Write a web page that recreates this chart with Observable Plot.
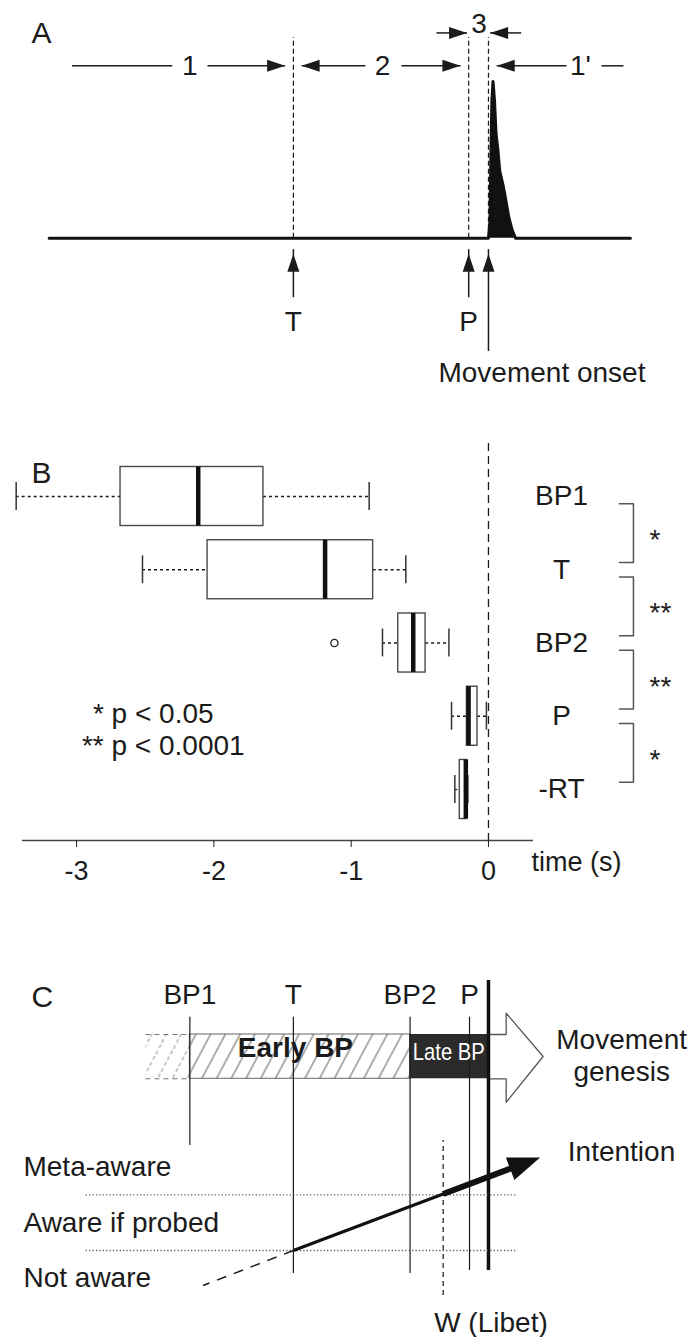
<!DOCTYPE html>
<html><head><meta charset="utf-8">
<script src="https://cdn.jsdelivr.net/npm/d3@7"></script>
<script src="https://cdn.jsdelivr.net/npm/@observablehq/plot@0.6"></script>
<style>
body{margin:0;background:#fff;}
#chart{width:690px;}
#chart svg{display:block;}
</style></head><body>
<svg width="0" height="0" style="position:absolute">
 <defs>
  <pattern id="hatch" patternUnits="userSpaceOnUse" width="13" height="13" patternTransform="rotate(28)">
   <line x1="2" y1="0" x2="2" y2="13" stroke="#6a6a6a" stroke-width="1.1"/>
  </pattern>
  <pattern id="hatchFaint" patternUnits="userSpaceOnUse" width="13" height="13" patternTransform="rotate(28)">
   <line x1="2" y1="0" x2="2" y2="13" stroke="#9a9a9a" stroke-width="1.1" stroke-dasharray="4,3"/>
  </pattern>
 </defs>
</svg>
<div id="chart"></div>
<script>
// ================= DATA =================
// Panel A: events (s, relative to movement onset) and EMG envelope
const eventNamesA = ["T", "P", "Movement onset"];
const eventTimesA = [-1.421, -0.144, 0];
const emgTime = [-3.2, 0, 0.011, 0.018, 0.025, 0.033, 0.044, 0.055, 0.069, 0.082, 0.102, 0.117, 0.131, 0.148, 0.173, 0.197, 1.034];
const emgAmp  = [0, 0, 0.11, 0.56, 0.88, 1.0, 0.88, 0.67, 0.56, 0.43, 0.355, 0.29, 0.22, 0.134, 0.05, 0, 0];
const intervalLabels = ["1", "2", "1'", "3"];
const intervalLabelTimes = [-2.175, -0.772, 0.67, -0.069];

// Panel B: box plots (time, s)
const categories  = ["BP1", "T", "BP2", "P", "-RT"];
const whiskerLow  = [-3.44, -2.52, -0.772, -0.269, -0.245];
const quart1      = [-2.68, -2.046, -0.657, -0.157, -0.209];
const median      = [-2.114, -1.19, -0.548, -0.145, -0.165];
const quart3      = [-1.639, -0.84, -0.458, -0.08, -0.155];
const whiskerHigh = [-0.869, -0.602, -0.288, -0.015, -0.15];
const outlierCategory = ["BP2"];
const outlierTime = [-1.122];
const compareFrom = ["BP1", "T", "BP2", "P"];
const compareTo   = ["T", "BP2", "P", "-RT"];
const compareSig  = ["*", "**", "**", "*"];
const xTicks = [-3, -2, -1, 0];
const pLegend = ["* p < 0.05", "** p < 0.0001"];

// Panel C: scheme
const schemeNames = ["BP1", "T", "BP2", "P"];
const schemeTimes = [-2.175, -1.421, -0.571, -0.138];
const wLibetTime = -0.33;
const awarenessNames = ["Not aware", "Aware if probed", "Meta-aware"];
const awarenessLevels = [0.5, 1.5, 2.5];
const intentionTip = {t: 0.376, level: 2.67};

// ================= LAYOUT =================
const W = 690;
const X_DOMAIN = [-3.394, 0.328], X_RANGE = [22, 533];
const FONT = "'Liberation Sans', Arial, Helvetica, sans-serif";
const INK = "#1b1b1b";
const xs = d3.scaleLinear(X_DOMAIN, X_RANGE);

function head(angleDeg, len = 18, halfW = 6) {
  const a = angleDeg * Math.PI / 180, c = Math.cos(a), s = Math.sin(a);
  return {draw(ctx) {
    const bx = -len * c, by = -len * s;
    ctx.moveTo(0, 0);
    ctx.lineTo(bx + halfW * s, by - halfW * c);
    ctx.lineTo(bx - halfW * s, by + halfW * c);
    ctx.closePath();
  }};
}
const headRight = head(0), headLeft = head(180), headUp = head(-90);
const txt = (o) => ({fontSize: 28, fill: INK, ...o});

// ================= PANEL A =================
const emg = emgTime.map((t, i) => ({t, a: emgAmp[i]}));
const evA = eventNamesA.map((name, i) => ({name, t: eventTimesA[i]}));
const tT = eventTimesA[0], tP = eventTimesA[1], t0 = eventTimesA[2];
const ROW1 = 1.1, ROW2 = 1.31, DASH_TOP = 1.28, TIP = -0.1, G1 = 0.06, G2 = 0.012;
const rowSegs = [
  {x1: -3.034, x2: -2.303, y: ROW1}, {x1: -2.047, x2: tT - G1, y: ROW1},
  {x1: tT + G1, x2: -0.896, y: ROW1}, {x1: -0.634, x2: tP - G1, y: ROW1},
  {x1: t0 + G1, x2: 0.568, y: ROW1}, {x1: 0.823, x2: 0.983, y: ROW1},
  {x1: -0.379, x2: tP - G2, y: ROW2}, {x1: t0 + G2, x2: 0.238, y: ROW2}
];
const headsR = [{t: tT - G1, y: ROW1}, {t: tP - G1, y: ROW1}, {t: tP - G2, y: ROW2}];
const headsL = [{t: tT + G1, y: ROW1}, {t: t0 + G1, y: ROW1}, {t: t0 + G2, y: ROW2}];
const labA = intervalLabels.map((s, i) => ({s, t: intervalLabelTimes[i], y: i < 3 ? ROW1 : ROW2 + 0.055}));
const tailA = {"T": -0.377, "P": -0.377, "Movement onset": -0.72};

const plotA = Plot.plot({
  width: W, height: 390, margin: 0,
  style: {fontFamily: FONT, background: "white"},
  x: {domain: X_DOMAIN, range: X_RANGE, axis: null},
  y: {domain: [0, 1], range: [237.7, 81], axis: null},
  marks: [
    Plot.ruleX(evA, {x: "t", y1: () => 0, y2: () => DASH_TOP, stroke: INK, strokeWidth: 1.2, strokeDasharray: "5,3"}),
    Plot.areaY(emg, {x: "t", y: "a", fill: "#111"}),
    Plot.line(emg, {x: "t", y: "a", stroke: "#111", strokeWidth: 3}),
    Plot.link(rowSegs, {x1: "x1", x2: "x2", y1: "y", y2: "y", stroke: INK, strokeWidth: 1.5}),
    Plot.dot(headsR, {x: "t", y: "y", symbol: headRight, fill: INK, stroke: "none"}),
    Plot.dot(headsL, {x: "t", y: "y", symbol: headLeft, fill: INK, stroke: "none"}),
    Plot.text(labA, txt({x: "t", y: "y", text: "s"})),
    Plot.link(evA, {x1: "t", x2: "t", y1: d => tailA[d.name], y2: () => TIP + 0.03, stroke: INK, strokeWidth: 1.5}),
    Plot.dot(evA, {x: "t", y: () => TIP, symbol: headUp, fill: INK, stroke: "none"}),
    Plot.text(evA.slice(0, 2), txt({x: "t", y: () => -0.538, text: "name"})),
    Plot.text(evA.slice(2), txt({x: "t", y: () => -0.863, text: "name", textAnchor: "start", dx: -50})),
    Plot.text(["A"], txt({x: () => -3.329, y: () => 1.31, text: d => d, textAnchor: "start", fontSize: 30}))
  ]
});

// ================= PANEL B =================
const idx = Object.fromEntries(categories.map((c, i) => [c, i]));
const boxes = categories.map((name, i) => ({name, i, lo: whiskerLow[i], q1: quart1[i], med: median[i], q3: quart3[i], hi: whiskerHigh[i]}));
const outliers = outlierCategory.map((c, k) => ({i: idx[c], t: outlierTime[k]}));
const BOX_H = 0.403, CAP_H = 0.19, BR = 0.1;
const yB = {domain: [0, 4], range: [106, 399]};
const axisLevel = d3.scaleLinear(yB.domain, yB.range).invert(450);
const BRX1 = 0.954, BRX2 = 1.056, STARX = 1.173, LABX = 0.532;
const brackets = compareFrom.flatMap((f, k) => {
  const a = idx[f] + BR, b = idx[compareTo[k]] - BR;
  return [{k, x: BRX1, y: a}, {k, x: BRX2, y: a}, {k, x: BRX2, y: b}, {k, x: BRX1, y: b}];
});
const sigs = compareFrom.map((f, k) => ({s: compareSig[k], y: (idx[f] + idx[compareTo[k]]) / 2}));
const legendB = pLegend.map((s, i) => ({s, x: [-2.881, -2.961][i], y: [2.967, 3.41][i]}));

const plotB = Plot.plot({
  width: W, height: 510, marginTop: 53, marginBottom: 60, marginLeft: 22, marginRight: 157,
  style: {fontFamily: FONT, background: "white"},
  x: {domain: X_DOMAIN, range: X_RANGE, label: null},
  y: {...yB, axis: null},
  marks: [
    Plot.ruleX([0], {stroke: INK, strokeWidth: 1.3, strokeDasharray: "8,5"}),
    Plot.ruleY([axisLevel], {stroke: "#444", strokeWidth: 1.4}),
    Plot.axisX({ticks: xTicks, tickFormat: d => String(d), tickSize: 7, tickPadding: 13, fontSize: 27, color: INK, label: null, anchor: "bottom"}),
    Plot.ruleY(boxes, {y: "i", x1: "lo", x2: "q1", stroke: INK, strokeWidth: 1.3, strokeDasharray: "3,3"}),
    Plot.ruleY(boxes, {y: "i", x1: "q3", x2: "hi", stroke: INK, strokeWidth: 1.3, strokeDasharray: "3,3"}),
    Plot.ruleX(boxes, {x: "lo", y1: d => d.i - CAP_H, y2: d => d.i + CAP_H, stroke: "#333", strokeWidth: 1.5}),
    Plot.ruleX(boxes, {x: "hi", y1: d => d.i - CAP_H, y2: d => d.i + CAP_H, stroke: "#333", strokeWidth: 1.5}),
    Plot.rect(boxes, {x1: "q1", x2: "q3", y1: d => d.i - BOX_H, y2: d => d.i + BOX_H, fill: "white", stroke: "#4a4a4a", strokeWidth: 1.4}),
    Plot.ruleX(boxes, {x: "med", y1: d => d.i - BOX_H, y2: d => d.i + BOX_H, stroke: "#111", strokeWidth: 4.5}),
    Plot.dot(outliers, {x: "t", y: "i", r: 3.6, stroke: INK, fill: "white", strokeWidth: 1.3}),
    Plot.text(boxes, txt({x: () => LABX, y: "i", text: "name"})),
    Plot.line(brackets, {x: "x", y: "y", z: "k", stroke: "#555", strokeWidth: 1.5}),
    Plot.text(sigs, txt({x: () => STARX, y: "y", text: "s", textAnchor: "start", dy: 7})),
    Plot.text(legendB, txt({x: "x", y: "y", text: "s", textAnchor: "start"})),
    Plot.text(["B"], txt({x: () => -3.329, y: () => -0.314, text: d => d, textAnchor: "start", fontSize: 30})),
    Plot.text(["time (s)"], txt({x: () => 0.313, frameAnchor: "bottom", dy: 30, text: d => d, textAnchor: "start", fontSize: 27}))
  ]
});

// ================= PANEL C =================
const ev = schemeNames.map((name, i) => ({name, t: schemeTimes[i]}));
const [tBP1, tTc, tBP2] = schemeTimes;
const yC = {domain: [0, 3], range: [405.7, 238.6]};
const ys = d3.scaleLinear(yC.domain, yC.range);
const BAR_TOP = 4.878, BAR_BOT = 4.083, MID = 4.483, HEAD_TOP = 5.26, HEAD_BOT = 3.662;
const EXT_START = -2.495, HB = 0.129, GTIP = 0.398;
const LINE_TOP = 5.188, LABEL_LVL = 5.578;
const lineBottom = {BP1: 2.885, T: 0.587, BP2: 0.587, P: 0.641};
const genesis = [
  {t: t0, y: BAR_TOP}, {t: HB, y: BAR_TOP}, {t: HB, y: HEAD_TOP}, {t: GTIP, y: MID},
  {t: HB, y: HEAD_BOT}, {t: HB, y: BAR_BOT}, {t: t0, y: BAR_BOT}
];
// intention arrow geometry
const p0 = [xs(tTc), ys(1)], p1 = [xs(intentionTip.t), ys(intentionTip.level)];
const ang = Math.atan2(p1[1] - p0[1], p1[0] - p0[0]);
const HEAD_LEN = 32;
const basePx = [p1[0] - (HEAD_LEN - 6) * Math.cos(ang), p1[1] - (HEAD_LEN - 6) * Math.sin(ang)];
const fW = (xs(wLibetTime) - p0[0]) / (p1[0] - p0[0]);
const crossW = {t: wLibetTime, y: ys.invert(p0[1] + fW * (p1[1] - p0[1]))};
const intentThin = [{x1: tTc, y1: 1, x2: crossW.t, y2: crossW.y}];
const intentThick = [{x1: crossW.t, y1: crossW.y, x2: xs.invert(basePx[0]), y2: ys.invert(basePx[1])}];
const notAware = [{x1: tTc, y1: 1, x2: -2.079, y2: 0.372}];
const aw = awarenessNames.map((s, i) => ({s, y: awarenessLevels[i]}));

const plotC = Plot.plot({
  width: W, height: 437, margin: 0,
  style: {fontFamily: FONT, background: "white"},
  x: {domain: X_DOMAIN, range: X_RANGE, axis: null},
  y: {...yC, axis: null},
  marks: [
    Plot.rect([0], {x1: () => EXT_START, x2: () => tBP1, y1: () => BAR_BOT, y2: () => BAR_TOP, fill: "url(#hatchFaint)"}),
    Plot.ruleY([BAR_BOT, BAR_TOP], {x1: () => EXT_START, x2: () => tBP1, stroke: "#777", strokeWidth: 1.1, strokeDasharray: "5,4"}),
    Plot.rect([0], {x1: () => tBP1, x2: () => tBP2, y1: () => BAR_BOT, y2: () => BAR_TOP, fill: "url(#hatch)", stroke: "#666", strokeWidth: 1}),
    Plot.rect([0], {x1: () => tBP2, x2: () => t0, y1: () => BAR_BOT, y2: () => BAR_TOP, fill: "#2b2b2b"}),
    Plot.line(genesis, {x: "t", y: "y", fill: "white", stroke: "#555", strokeWidth: 1.3}),
    Plot.ruleX(ev, {x: "t", y1: d => lineBottom[d.name], y2: () => LINE_TOP, stroke: INK, strokeWidth: 1.2}),
    Plot.ruleX([t0], {y1: () => 0.641, y2: () => 5.846, stroke: "#111", strokeWidth: 3.5}),
    Plot.ruleY([1, 2], {x1: () => -2.93, x2: () => 0.216, stroke: "#555", strokeWidth: 1.3, strokeDasharray: "1.2,2.2"}),
    Plot.ruleX([wLibetTime], {y1: () => 0.192, y2: () => 2.975, stroke: INK, strokeWidth: 1.2, strokeDasharray: "5,4"}),
    Plot.link(notAware, {x1: "x1", y1: "y1", x2: "x2", y2: "y2", stroke: INK, strokeWidth: 1.5, strokeDasharray: "10,8"}),
    Plot.link(intentThin, {x1: "x1", y1: "y1", x2: "x2", y2: "y2", stroke: "#111", strokeWidth: 3.2}),
    Plot.link(intentThick, {x1: "x1", y1: "y1", x2: "x2", y2: "y2", stroke: "#111", strokeWidth: 6}),
    Plot.dot([intentionTip], {x: "t", y: "level", symbol: head(ang * 180 / Math.PI, HEAD_LEN, 12), fill: "#111", stroke: "none"}),
    Plot.text(ev, txt({x: "t", y: () => LABEL_LVL, text: "name"})),
    Plot.text(["C"], txt({x: () => -3.329, y: () => 5.542, text: d => d, textAnchor: "start", fontSize: 30})),
    Plot.text(["Early BP"], txt({x: () => -1.406, y: () => 4.627, text: d => d, fontWeight: "bold"})),
    Plot.text(["Late BP"], txt({x: () => -0.289, y: () => 4.56, text: d => d, fill: "white", fontSize: 24})),
    Plot.text(["Movement", "genesis"], txt({x: () => 0.97, y: (d, i) => [4.77, 4.201][i], text: d => d})),
    Plot.text(["Intention"], txt({x: () => 0.969, y: () => 2.765, text: d => d})),
    Plot.text(aw, txt({x: () => -3.387, y: "y", text: "s", textAnchor: "start"})),
    Plot.text(["W (Libet)"], txt({x: () => wLibetTime, y: () => -0.31, text: d => d, textAnchor: "start", dx: -9}))
  ]
});

const root = document.getElementById("chart");
root.append(plotA, plotB, plotC);
for (const t of plotC.querySelectorAll("text")) {
  if (t.textContent === "Late BP") { t.setAttribute("textLength", "72"); t.setAttribute("lengthAdjust", "spacingAndGlyphs"); }
}
</script></body></html>
